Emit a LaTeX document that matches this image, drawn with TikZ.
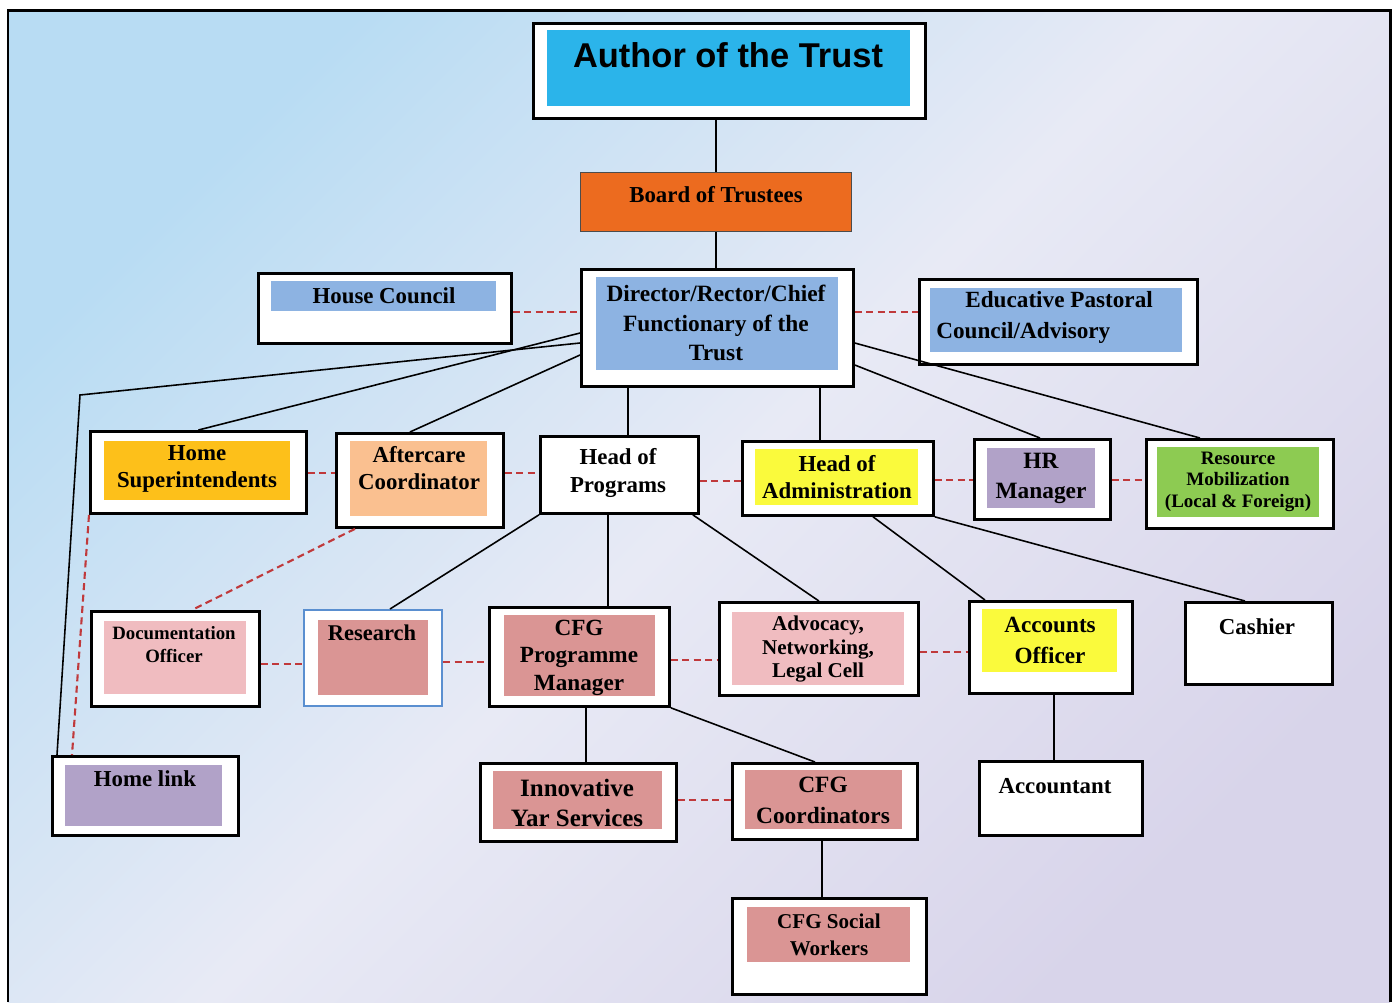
\documentclass[tikz,border=0pt]{standalone}
\usepackage{fontspec}
\setmainfont{Liberation Serif}
\newfontfamily\headfont{Liberation Sans}
\usepackage{tikz}
\usetikzlibrary{calc}

\definecolor{bgblue}{HTML}{B8DCF3}
\definecolor{bgmid}{HTML}{E8EAF5}
\definecolor{bglav}{HTML}{D8D4EA}
\definecolor{authorblue}{HTML}{2BB4EA}
\definecolor{trustorange}{HTML}{EC6B1F}
\definecolor{paleblue}{HTML}{8DB3E2}
\definecolor{gold}{HTML}{FDC01A}
\definecolor{peach}{HTML}{FAC090}
\definecolor{lemon}{HTML}{FAFA3C}
\definecolor{lavender}{HTML}{B1A2C8}
\definecolor{leaf}{HTML}{8DCB52}
\definecolor{blush}{HTML}{F0BCC0}
\definecolor{rose}{HTML}{DA9594}
\definecolor{dashred}{HTML}{C0393B}
\definecolor{edgeblue}{HTML}{5A8FD0}

\newcommand{\unitpx}{0.02cm}
\newcommand{\setfs}[2]{\fontsize{#1}{#2}\selectfont}

\begin{document}
\begin{tikzpicture}[x=0.02cm, y=-0.02cm]

\tikzstyle{unit}=[draw, line width=1.6pt, fill=white, rectangle, anchor=north west, inner sep=0pt]
\tikzstyle{lbl}=[align=center, inner sep=0pt, font=\bfseries\setfs{13}{15.4}]
\tikzstyle{link}=[line width=0.9pt]
\tikzstyle{peer}=[draw=dashred, line width=1.2pt, dash pattern=on 4pt off 2.5pt]

\useasboundingbox (0,0) rectangle (1395,1002);
\fill[white] (0,0) rectangle (1395,1002);
\shade[top color=bgblue, bottom color=bglav, middle color=bgmid, shading angle=45] (8,10) rectangle (1390,1002);
\draw[line width=1.7pt] (8,1002) -- (8,10) -- (1390,10) -- (1390,1002);

% top of the trust
\node[unit, minimum width=392*\unitpx, minimum height=95*\unitpx] (author) at (532,22) {};
\fill[authorblue] (547,30) rectangle (910,106);
\node[lbl, font=\headfont\bfseries\setfs{19.6}{24}] (author-t) at (728,55) {Author of the Trust};

\node[unit, fill=trustorange, draw=black!70, line width=0.6pt, minimum width=271*\unitpx, minimum height=59*\unitpx] (board) at (580,172) {};
\node[lbl] (board-t) at (716,195) {Board of Trustees};

\node[unit, minimum width=272*\unitpx, minimum height=117*\unitpx] (director) at (580,268) {};
\fill[paleblue] (596,277) rectangle (838,370);
\node[lbl, font=\bfseries\setfs{13.3}{17}] (director-t) at (716,323) {Director/Rector/Chief\\Functionary of the\\Trust};

\node[unit, minimum width=253*\unitpx, minimum height=70*\unitpx] (house) at (257,272) {};
\fill[paleblue] (271,281) rectangle (496,311);
\node[lbl] (house-t) at (384,296) {House Council};

\node[unit, minimum width=278*\unitpx, minimum height=85*\unitpx] (edu) at (918,278) {};
\fill[paleblue] (930,288) rectangle (1182,352);
\node[lbl, align=left, anchor=west, font=\bfseries\setfs{13.2}{17.6}] (edu-t) at (936,317.5) {\hspace*{16.5pt}Educative Pastoral\\Council/Advisory};

% second row
\node[unit, minimum width=216*\unitpx, minimum height=82*\unitpx] (hsup) at (89,430) {};
\fill[gold] (104,441) rectangle (290,500);
\node[lbl] (hsup-t) at (197,468.5) {Home\\Superintendents};

\node[unit, minimum width=167*\unitpx, minimum height=94*\unitpx] (after) at (335,432) {};
\fill[peach] (350,441) rectangle (487,516);
\node[lbl] (after-t) at (419,468.5) {Aftercare\\Coordinator};

\node[unit, minimum width=158*\unitpx, minimum height=77*\unitpx] (hprog) at (539,435) {};
\node[lbl, font=\bfseries\setfs{13}{16}] (hprog-t) at (618,473) {Head of\\Programs};

\node[unit, minimum width=191*\unitpx, minimum height=74*\unitpx] (hadm) at (741,440) {};
\fill[lemon] (755,449) rectangle (918,505);
\node[lbl] (hadm-t) at (837,477.5) {Head of\\Administration};

\node[unit, minimum width=136*\unitpx, minimum height=80*\unitpx] (hr) at (973,438) {};
\fill[lavender] (987,448) rectangle (1095,508);
\node[lbl, font=\bfseries\setfs{13.3}{17}] (hr-t) at (1041,478) {HR\\Manager};

\node[unit, minimum width=187*\unitpx, minimum height=89*\unitpx] (resmob) at (1145,438) {};
\fill[leaf] (1157,447) rectangle (1319,517);
\node[lbl, font=\bfseries\setfs{10.8}{12.2}] (resmob-t) at (1238,481.5) {Resource\\Mobilization\\(Local \& Foreign)};

% third row
\node[unit, minimum width=168*\unitpx, minimum height=95*\unitpx] (doc) at (90,610) {};
\fill[blush] (104,621) rectangle (246,694);
\node[lbl, font=\bfseries\setfs{10.7}{13.1}] (doc-t) at (174,644.5) {Documentation\\Officer};

\node[unit, draw=edgeblue, line width=1.2pt, minimum width=138*\unitpx, minimum height=96*\unitpx] (research) at (303,609) {};
\fill[rose] (318,620) rectangle (428,695);
\node[lbl, font=\bfseries\setfs{12.8}{15}] (research-t) at (372,633) {Research};

\node[unit, minimum width=180*\unitpx, minimum height=99*\unitpx] (cfgpm) at (488,606) {};
\fill[rose] (504,615) rectangle (655,696);
\node[lbl, font=\bfseries\setfs{13.2}{15.6}] (cfgpm-t) at (579,657.5) {CFG\\Programme\\Manager};

\node[unit, minimum width=199*\unitpx, minimum height=93*\unitpx] (advoc) at (718,601) {};
\fill[blush] (732,612) rectangle (904,685);
\node[lbl, font=\bfseries\setfs{12}{13.6}] (advoc-t) at (818,649) {Advocacy,\\Networking,\\Legal Cell};

\node[unit, minimum width=163*\unitpx, minimum height=92*\unitpx] (accoff) at (968,600) {};
\fill[lemon] (982,609) rectangle (1117,672);
\node[lbl, font=\bfseries\setfs{13.2}{17.6}] (accoff-t) at (1050,640.5) {Accounts\\Officer};

\node[unit, minimum width=147*\unitpx, minimum height=82*\unitpx] (cashier) at (1184,601) {};
\node[lbl] (cashier-t) at (1257,627) {Cashier};

% bottom rows
\node[unit, minimum width=186*\unitpx, minimum height=79*\unitpx] (homelink) at (51,755) {};
\fill[lavender] (65,765) rectangle (222,826);
\node[lbl] (homelink-t) at (145,779) {Home link};

\node[unit, minimum width=196*\unitpx, minimum height=78*\unitpx] (innov) at (479,762) {};
\fill[rose] (493,771) rectangle (662,829);
\node[lbl, font=\bfseries\setfs{14.2}{17}] (innov-t) at (577,803) {Innovative\\Yar Services};

\node[unit, minimum width=185*\unitpx, minimum height=76*\unitpx] (cfgcoord) at (731,762) {};
\fill[rose] (745,770) rectangle (902,829);
\node[lbl, font=\bfseries\setfs{13.3}{17.6}] (cfgcoord-t) at (823,800.5) {CFG\\Coordinators};

\node[unit, minimum width=163*\unitpx, minimum height=74*\unitpx] (accountant) at (978,760) {};
\node[lbl] (accountant-t) at (1055,786) {Accountant};

\node[unit, minimum width=194*\unitpx, minimum height=96*\unitpx] (cfgsw) at (731,897) {};
\fill[rose] (747,907) rectangle (910,962);
\node[lbl, font=\bfseries\setfs{12}{15.4}] (cfgsw-t) at (829,934.5) {CFG Social\\Workers};

% solid lines of command
\draw[link] (board.north |- author.south) -- (board.north);
\draw[link] (board.south) -- (board.south |- director.north);
\draw[link] ($(director.north west)+(0,65)$) -- (hsup.north);
\coordinate (bend) at (80,395);
\draw[link] ($(director.north west)+(0,75)$) -- (bend) -- ($(homelink.north west)+(6,0)$);
\draw[link] ($(director.north west)+(0,87)$) -- ($(after.north)+(-10,0)$);
\draw[link] ($(director.south west)+(48,0)$) -- ($(hprog.north west)+(89,0)$);
\draw[link] ($(director.south west)+(240,0)$) -- ($(hadm.north west)+(79,0)$);
\draw[link] ($(director.north east)+(0,97)$) -- ($(hr.north west)+(67,0)$);
\draw[link] ($(director.north east)+(0,75)$) -- ($(resmob.north west)+(55,0)$);
\draw[link] (hprog.south west) -- ($(research.north west)+(87,0)$);
\draw[link] ($(hprog.south west)+(69,0)$) -- ($(cfgpm.north west)+(120,0)$);
\draw[link] ($(hprog.south east)+(-7,0)$) -- (advoc.north);
\draw[link] ($(hadm.south west)+(132,0)$) -- ($(accoff.north west)+(17,0)$);
\draw[link] (hadm.south east) -- ($(cashier.north west)+(61,0)$);
\draw[link] ($(cfgpm.south west)+(98,0)$) -- ($(innov.north west)+(107,0)$);
\draw[link] (cfgpm.south east) -- ($(cfgcoord.north west)+(84,0)$);
\draw[link] ($(accoff.south west)+(86,0)$) -- ($(accountant.north west)+(76,0)$);
\draw[link] ($(cfgcoord.south west)+(91,0)$) -- ($(cfgsw.north west)+(91,0)$);

% dashed peer links
\draw[peer] ($(house.north east)+(0,40)$) -- ($(director.north west)+(0,44)$);
\draw[peer] ($(director.north east)+(0,44)$) -- ($(edu.north west)+(0,34)$);
\draw[peer] ($(hsup.north east)+(0,43)$) -- ($(after.north west)+(0,41)$);
\draw[peer] ($(after.north east)+(0,41)$) -- ($(hprog.north west)+(0,38)$);
\draw[peer] ($(hprog.north east)+(0,46)$) -- ($(hadm.north west)+(0,41)$);
\draw[peer] ($(hadm.north east)+(0,40)$) -- ($(hr.north west)+(0,42)$);
\draw[peer] ($(hr.north east)+(0,42)$) -- ($(resmob.north west)+(0,42)$);
\draw[peer] (hsup.south west) -- ($(homelink.north west)+(21,0)$);
\draw[peer] ($(after.south west)+(20,0)$) -- ($(doc.north west)+(102,0)$);
\draw[peer] ($(doc.north east)+(0,54)$) -- ($(research.north west)+(0,55)$);
\draw[peer] ($(research.north east)+(0,53)$) -- ($(cfgpm.north west)+(0,56)$);
\draw[peer] ($(cfgpm.north east)+(0,54)$) -- ($(advoc.north west)+(0,59)$);
\draw[peer] ($(advoc.north east)+(0,51)$) -- ($(accoff.north west)+(0,52)$);
\draw[peer] ($(innov.north east)+(0,38)$) -- ($(cfgcoord.north west)+(0,38)$);

\end{tikzpicture}
\end{document}
